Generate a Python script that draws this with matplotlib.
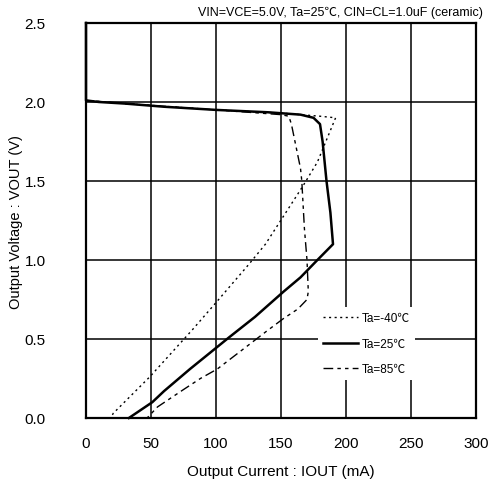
import matplotlib
matplotlib.use('Agg')
import matplotlib.pyplot as plt

plt.rcParams['font.family'] = ['Liberation Sans', 'Noto Sans CJK JP', 'DejaVu Sans']

# Ta = -40C (dotted)
i_m40 = [0, 0, 30, 100, 150, 180, 192, 185, 178, 167, 149, 138, 125, 101, 82, 49, 21, 19]
v_m40 = [2.5, 2.01, 1.99, 1.95, 1.93, 1.91, 1.90, 1.76, 1.62, 1.47, 1.24, 1.10, 0.97, 0.74, 0.56, 0.26, 0.03, 0.0]

# Ta = 25C (solid)
i_25 = [0, 0, 10, 30, 60, 100, 140, 165, 175, 180, 182, 185, 188, 190, 178, 165, 152, 130, 110, 101, 80, 60, 51, 42, 33]
v_25 = [2.5, 2.01, 2.0, 1.99, 1.97, 1.95, 1.935, 1.92, 1.90, 1.86, 1.75, 1.5, 1.3, 1.1, 1.0, 0.89, 0.8, 0.64, 0.51, 0.45, 0.31, 0.17, 0.10, 0.05, 0.0]

# Ta = 85C (dash-dot-dot)
i_85 = [0, 0, 30, 100, 150, 156, 158, 162, 165, 166, 168, 170, 171, 170, 163, 152, 139, 101, 88, 75, 55, 47]
v_85 = [2.5, 2.01, 1.99, 1.95, 1.92, 1.91, 1.86, 1.70, 1.58, 1.5, 1.2, 1.0, 0.8, 0.75, 0.69, 0.63, 0.55, 0.31, 0.25, 0.18, 0.07, 0.0]

x_ticks = [0, 50, 100, 150, 200, 250, 300]
y_ticks = [0.0, 0.5, 1.0, 1.5, 2.0, 2.5]

fig = plt.figure(figsize=(4.96, 4.89), dpi=100)
ax = fig.add_axes([86 / 496, 70 / 489, 390 / 496, 395 / 489])

ax.plot(i_m40, v_m40, color='black', linewidth=1.0, linestyle=(0, (1.5, 2.5)),
        label='Ta=-40℃', clip_on=False, zorder=3)
ax.plot(i_25, v_25, color='black', linewidth=1.8, linestyle='-',
        label='Ta=25℃', clip_on=False, zorder=3)
ax.plot(i_85, v_85, color='black', linewidth=1.0, linestyle=(0, (7, 3, 2.5, 3, 2.5, 3)),
        label='Ta=85℃', clip_on=False, zorder=3)

ax.set_xlim(0, 300)
ax.set_ylim(0, 2.5)
ax.set_xticks(x_ticks)
ax.set_yticks(y_ticks)
ax.set_yticklabels([f'{v:.1f}' for v in y_ticks])
ax.tick_params(axis='both', length=0, labelsize=11)
ax.tick_params(axis='x', pad=13)
ax.tick_params(axis='y', pad=29)
ax.grid(True, color='black', linewidth=1.1)
for s in ax.spines.values():
    s.set_linewidth(1.6)

fig.text(281 / 496, 1 - 472 / 489, 'Output Current : IOUT (mA)', fontsize=11,
         ha='center', va='center')
fig.text(16 / 496, 1 - 222 / 489, 'Output Voltage : VOUT (V)', fontsize=10.5,
         ha='center', va='center', rotation=90)

fig.text(483 / 496, 1 - 13 / 489, 'VIN=VCE=5.0V, Ta=25℃, CIN=CL=1.0uF (ceramic)',
         fontsize=9, ha='right', va='center')

leg = ax.legend(loc='upper left', bbox_to_anchor=(0.58, 0.295), fontsize=8.5,
                handlelength=3.0, labelspacing=1.15, frameon=True, fancybox=False,
                borderpad=0.4, handletextpad=0.3)
leg.get_frame().set_facecolor('white')
leg.get_frame().set_edgecolor('none')
leg.get_frame().set_alpha(1)

fig.savefig('out.png', dpi=100)
